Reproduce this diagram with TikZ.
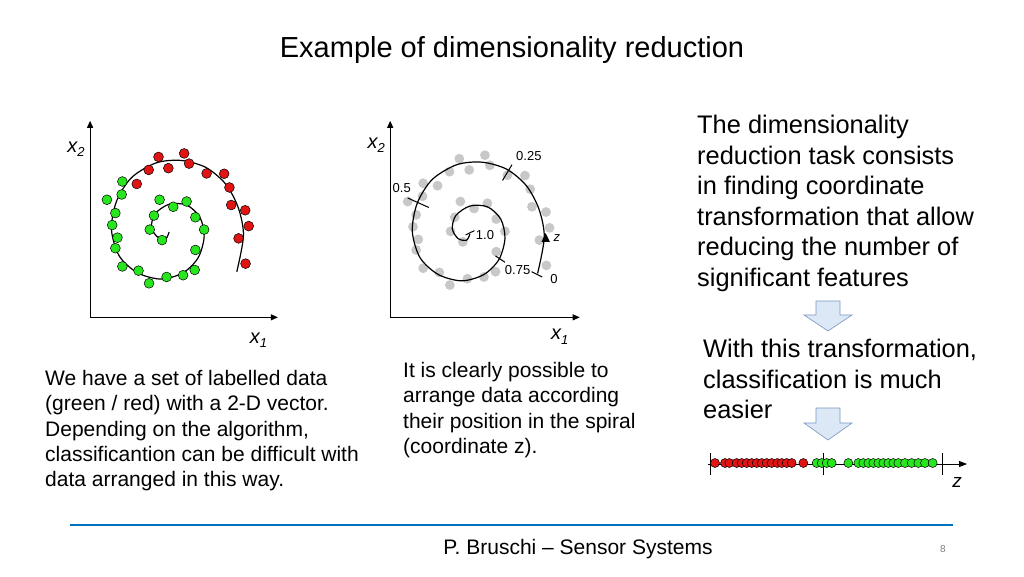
\documentclass[tikz,border=0pt]{standalone}
\usepackage{fontspec}
\setmainfont{Liberation Sans}
\usetikzlibrary{arrows.meta}
\definecolor{gdot}{RGB}{40,230,30}
\definecolor{rdot}{RGB}{225,20,20}
\definecolor{gpt}{RGB}{200,200,200}
\definecolor{blockfill}{RGB}{220,232,246}
\definecolor{blockline}{RGB}{120,150,190}
\definecolor{rulecol}{RGB}{0,112,192}
\tikzset{
  greendot/.style={fill=gdot,draw=black,line width=0.5pt},
  reddot/.style={fill=rdot,draw=black,line width=0.5pt},
  greydot/.style={fill=gpt},
  axis/.style={line width=1pt,-{Triangle[length=7pt,width=6pt]}},
  lbl/.style={font=\fontsize{20}{20}\selectfont\itshape},
  ticklbl/.style={font=\fontsize{13}{13}\selectfont},
  txt/.style={align=left,anchor=north west,inner sep=0pt},
  blockarrow/.style={fill=blockfill,draw=blockline,line width=0.6pt}
}
\newcommand{\spiralpts}{(305,342) (296,360) (272,356) (255,328) (265,290) (305,263) (355,265) (393,300) (405,355) (388,415) (345,458) (282,476) (215,458) (163,410) (141,335) (155,255) (198,187) (268,145) (340,138) (410,158) (466,205) (502,272) (517,352) (498,455)}
\newcommand{\sub}[1]{\raisebox{-0.4ex}{\fontsize{13}{13}\selectfont #1}}
\begin{document}
\begin{tikzpicture}[x=1pt,y=-1pt]
\useasboundingbox (0,0) rectangle (1024,576);
% title
\node (title) at (512,50) {\fontsize{29}{29}\selectfont Example of dimensionality reduction};
% left and middle plots
\begin{scope}[shift={(62,112)},x=0.351pt,y=-0.351pt]
  \coordinate (o1) at (80,585);
  \coordinate (o2) at (935,585);
  \draw[axis] (o1) -- (80,25);
  \draw[axis] (o1) -- (615,585);
  \draw[axis] (o2) -- (935,25);
  \draw[axis] (o2) -- (1475,585);
  \node[lbl] (y1) at (40,105) {x\sub{2}};
  \node[lbl] (x1) at (560,650) {x\sub{1}};
  \node[lbl] (y2) at (895,95) {x\sub{2}};
  \node[lbl] (x2) at (1418,640) {x\sub{1}};
  % grey points
  \begin{scope}[shift={(857,5)}]
    \foreach \p in {(128,250),(172,198),(170,235),(152,288),(143,322),(158,358),(152,388),(172,440),(218,452),(248,488),(298,470),(345,465),(378,450),(380,393),(405,335),(380,300),(355,255),(317,270),(278,250),(262,295),(250,335),(285,365),(275,128),(348,118),(362,147),(303,160),(247,165),(213,205),(412,175),(462,176),(477,215),(482,265),(522,280),(532,325),(503,360),(523,432)}
      \fill[greydot] \p circle (14);
    \draw[line width=1.2pt] plot[smooth] coordinates {\spiralpts};
  \end{scope}
  % ticks on middle spiral
  \draw[line width=1pt] (1255,195) -- (1282,150);
  \node[ticklbl] (t25) at (1330,125) {0.25};
  \draw[line width=1pt] (985,245) -- (1045,272);
  \node[ticklbl] (t5) at (968,218) {0.5};
  \draw[line width=1pt] (1150,350) -- (1175,338);
  \node[ticklbl] (t10) at (1205,350) {1.0};
  \draw[line width=1pt] (1235,410) -- (1262,428);
  \node[ticklbl] (t75) at (1298,450) {0.75};
  \draw[line width=1pt] (1338,455) -- (1368,470);
  \node[ticklbl] (t0) at (1402,475) {0};
  \fill (1366,370) -- (1390,370) -- (1378,345) -- cycle;
  \node[ticklbl,font=\fontsize{13}{13}\selectfont\itshape] (zz) at (1410,358) {z};
  % labelled points
  \draw[line width=1.2pt] plot[smooth] coordinates {\spiralpts};
  \foreach \p in {(128,250),(172,198),(170,235),(152,288),(143,322),(158,358),(152,388),(172,440),(218,452),(248,488),(298,470),(345,465),(378,450),(380,393),(405,335),(380,300),(355,255),(317,270),(278,250),(262,295),(250,335),(285,365)}
    \filldraw[greendot] \p circle (14);
  \foreach \p in {(275,128),(348,118),(362,147),(303,160),(247,165),(213,205),(412,175),(462,176),(477,215),(482,265),(522,280),(532,325),(503,360),(523,432)}
    \filldraw[reddot] \p circle (14);
\end{scope}
% texts
\node[txt,font=\fontsize{21}{25.3}\selectfont] (leftnote) at (45,370) {We have a set of labelled data\\(green / red) with a 2-D vector.\\Depending on the algorithm,\\classificantion can be difficult with\\data arranged in this way.};
\node[txt,font=\fontsize{21}{25.3}\selectfont] (midnote) at (403,362) {It is clearly possible to\\arrange data according\\their position in the spiral\\(coordinate z).};
\node[txt,font=\fontsize{25.4}{30.5}\selectfont] (task) at (697,115) {The dimensionality\\reduction task consists\\in finding coordinate\\transformation that allow\\reducing the number of\\significant features};
\node[txt,font=\fontsize{25.4}{30.5}\selectfont] (easier) at (703,339) {With this transformation,\\classification is much\\easier};
% block arrows
\draw[blockarrow] (816,301) -- (840,301) -- (840,315) -- (852,315) -- (828,331) -- (804,315) -- (816,315) -- cycle;
\draw[blockarrow] (816,408) -- (840,408) -- (840,423) -- (852,423) -- (828,440) -- (804,423) -- (816,423) -- cycle;
% z axis
\coordinate (za) at (708,464);
\coordinate (zb) at (967,464);
\draw[line width=0.8pt,-{Triangle[length=8pt,width=6pt]}] (za) -- (zb);
\foreach \x in {710,823,942}
  \draw[line width=0.8pt] (\x,453) -- (\x,475);
\node[font=\fontsize{19}{19}\selectfont\itshape] (zlbl) at (957,482) {z};
\foreach \x in {75,105,118,140,155,170,185,200,215,230,245,262,275,290,305,340}
  \filldraw[reddot] (690+\x/3,463) circle (4.5);
\foreach \x in {380,395,410,425,475,505,520,535,550,565,580,595,610,625,645,665,685,705,728}
  \filldraw[greendot] (690+\x/3,463) circle (4.5);
% footer
\draw[rulecol,line width=2pt] (70,525) -- (953,525);
\node[font=\fontsize{21}{21}\selectfont] (footer) at (578,549) {P. Bruschi -- Sensor Systems};
\node[font=\fontsize{10}{10}\selectfont,text=gray] (page) at (943,549) {8};
\end{tikzpicture}
\end{document}
